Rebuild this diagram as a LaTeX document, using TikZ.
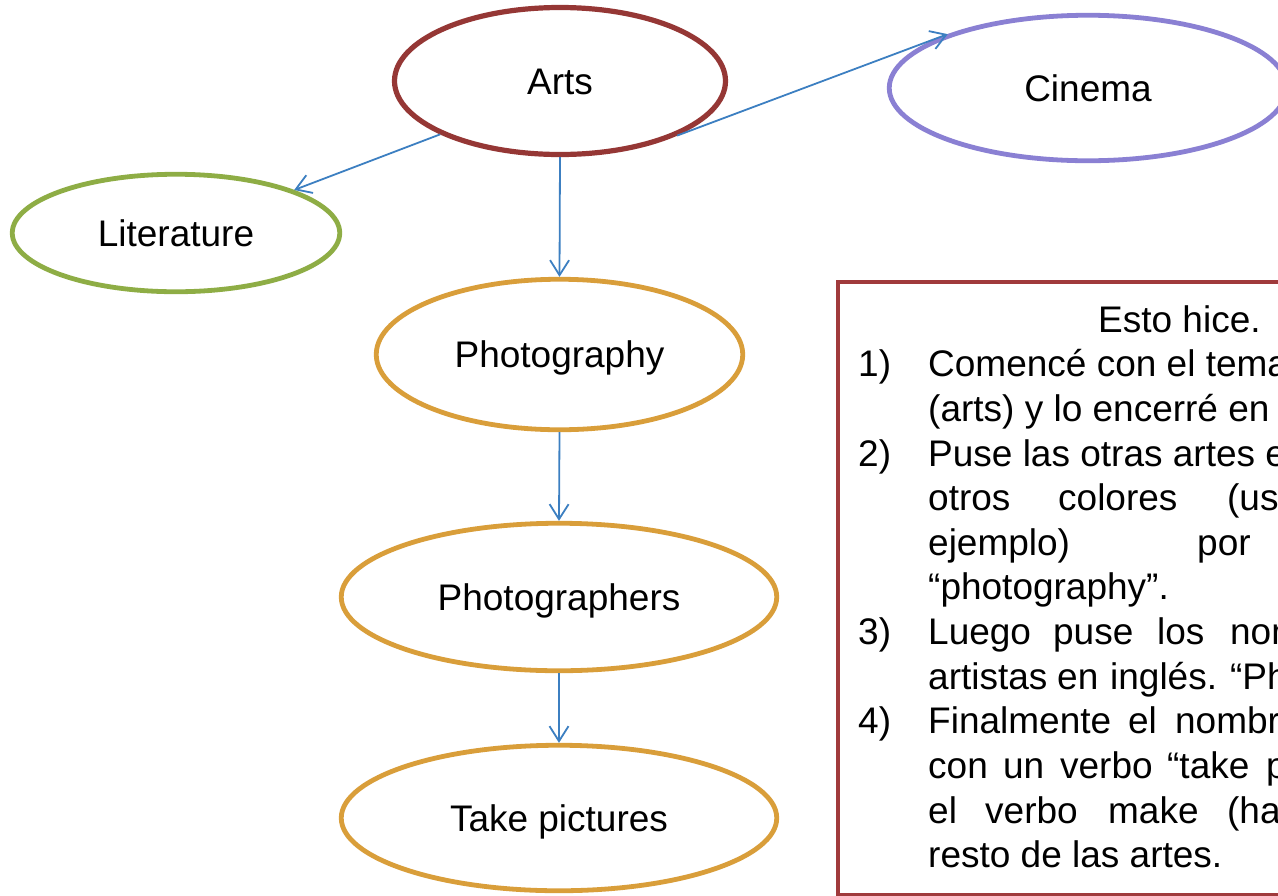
\documentclass[tikz,border=0pt]{standalone}
\usepackage{fontspec}
\setmainfont{Liberation Sans}
\usetikzlibrary{shapes.geometric,arrows.meta}
\definecolor{artsred}{HTML}{953735}
\definecolor{litgreen}{HTML}{8EAD45}
\definecolor{cinpurple}{HTML}{8A80D3}
\definecolor{photoorange}{HTML}{D99E3A}
\definecolor{linkblue}{HTML}{3C7FC1}
\definecolor{boxred}{HTML}{A03A3C}
\newcommand{\wbox}[2]{\makebox[#1pt][l]{#2}}
\begin{document}
\begin{tikzpicture}[x=1pt,y=-1pt,
  bubble/.style={ellipse, draw, fill=white, inner sep=0pt, text height=26.5pt, text depth=0pt,
    font=\fontsize{37}{44}\selectfont, line width=4.8pt},
  link/.style={draw=linkblue, line width=1.8pt, -{Straight Barb[length=15pt,width=19pt]}},
  txt/.style={anchor=base west, inner sep=0pt, font=\fontsize{37}{44}\selectfont},
  notebox/.style={draw=boxred, line width=4pt}]
\useasboundingbox (0,0) rectangle (1278,895);
\clip (0,0) rectangle (1278,895);

% nodes
\node[bubble, draw=artsred, line width=5.2pt, minimum width=331pt, minimum height=147pt] (arts) at (560,81) {Arts};
\node[bubble, draw=litgreen, minimum width=327.5pt, minimum height=117.5pt] (lit) at (176,233) {Literature};
\node[bubble, draw=cinpurple, minimum width=397.5pt, minimum height=145.5pt] (cinema) at (1088,88) {Cinema};
\node[bubble, draw=photoorange, minimum width=366.5pt, minimum height=150.5pt] (photo) at (559.5,354.5) {Photography};
\node[bubble, draw=photoorange, minimum width=435.5pt, minimum height=147.5pt] (phers) at (559,597) {Photographers};
\node[bubble, draw=photoorange, minimum width=435.5pt, minimum height=145.5pt] (take) at (559,818) {Take pictures};

% connectors
\draw[link] (arts.204.8) -- (lit.20.2);
\draw[link] (arts.335.4) -- (cinema.159.2);
\draw[link] (arts.south) -- (photo.north);
\draw[link] (photo.south) -- (phers.north);
\draw[link] (phers.south) -- (take.north);

% note box
\node[notebox, minimum width=464.5pt, minimum height=613pt, inner sep=0pt, anchor=north west] (note) at (835.5,279.5) {};

\node[txt] (title) at (1098,332) {Esto hice.};
\node[txt] (n1) at (858,376.7) {1)};
\node[txt] (l1) at (928,376.7) {Comencé con el tema};
\node[txt] (l2) at (928,421.3) {(arts) y lo encerré en};
\node[txt] (n2) at (858,466) {2)};
\node[txt] (l3) at (928,466) {Puse las otras artes e};
\node[txt] (l4) at (928,510.6) {\wbox{130}{otros}\wbox{169}{colores}(us};
\node[txt] (l5) at (928,555.3) {\wbox{269}{ejemplo)}por};
\node[txt] (l6) at (928,599.9) {“photography”.};
\node[txt] (n3) at (858,644.6) {3)};
\node[txt] (l7) at (928,644.6) {\wbox{125}{Luego}\wbox{104}{puse}\wbox{73}{los}nom};
\node[txt] (l8) at (928,689.2) {\wbox{129}{artistas}\wbox{53}{en}\wbox{120}{inglés.}“Ph};
\node[txt] (n4) at (858,733.9) {4)};
\node[txt] (l9) at (928,733.9) {\wbox{200}{Finalmente}\wbox{47}{el}nombr};
\node[txt] (l10) at (928,778.5) {\wbox{75}{con}\wbox{57}{un}\wbox{107}{verbo}\wbox{99}{“take}p};
\node[txt] (l11) at (928,823.2) {\wbox{57}{el}\wbox{123}{verbo}\wbox{119}{make}(ha};
\node[txt] (l12) at (928,867.8) {resto de las artes.};
\end{tikzpicture}
\end{document}
